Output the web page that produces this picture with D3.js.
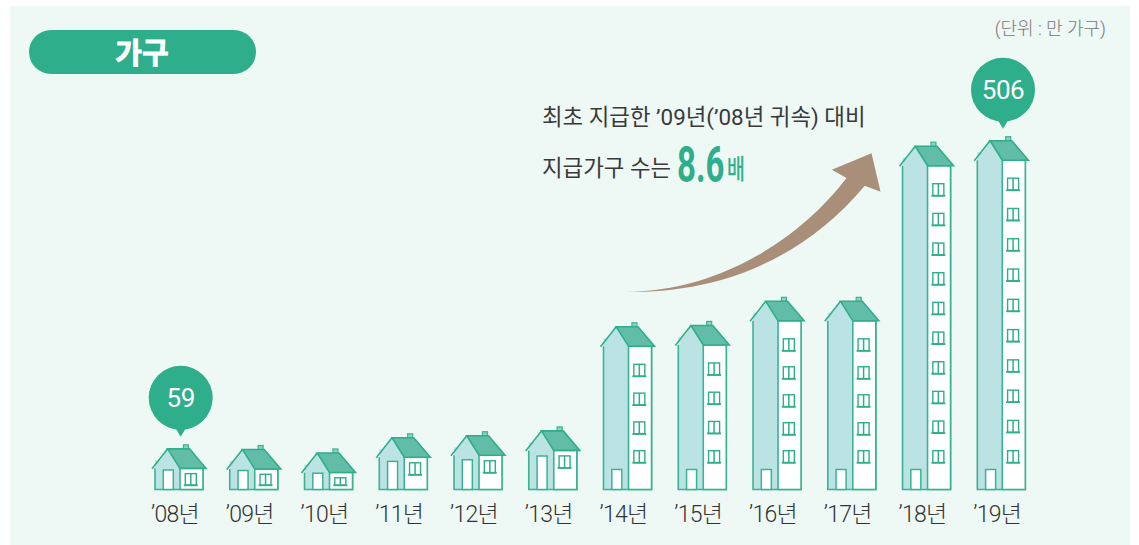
<!DOCTYPE html>
<html>
<head>
<meta charset="utf-8">
<script src="https://cdn.jsdelivr.net/npm/d3@7"></script>
<style>
  html, body { margin: 0; padding: 0; background: #fff; }
  text { font-family: Roboto, "Noto Sans CJK KR", sans-serif; }
</style>
</head>
<body>
<div id="chart"></div>
<script>
// data (only 59 and 506 are printed, the rest are estimates)
const years = ["’08년", "’09년", "’10년", "’11년", "’12년", "’13년", "’14년", "’15년", "’16년", "’17년", "’18년", "’19년"];
const households = [59, 58, 53, 75, 78, 85, 236, 238, 273, 273, 498, 506];
const windowCounts = [1, 1, 1, 1, 1, 1, 4, 4, 5, 5, 10, 10];
const labelled = ["’08년", "’19년"];

const width = 1139, height = 545;
const green = "#2eae8a", line = "#3bb393", roofFill = "#62bda8", wallFill = "#bce3e4";

const x = d3.scalePoint().domain(years).range([179, 1001.3]);
const y = d3.scaleLinear().domain([0, 506]).range([489.5, 140.7]);
const baseY = y(0);

const svg = d3.select("#chart").append("svg")
    .attr("width", width)
    .attr("height", height)
    .style("display", "block");

// panel
svg.append("rect").attr("x", 10).attr("y", 6).attr("width", 1120).attr("height", 539).attr("fill", "#eef8f5");

// title pill
svg.append("rect").attr("x", 29).attr("y", 30).attr("width", 227).attr("height", 44).attr("rx", 22).attr("fill", green);
svg.append("text").attr("x", 142).attr("y", 64).attr("text-anchor", "middle")
    .attr("fill", "#fff").attr("stroke", "#fff").attr("stroke-width", 0.8)
    .style("font-size", "29px").style("font-weight", 700).text("가구");

// unit
svg.append("text").attr("x", 1106).attr("y", 35).attr("text-anchor", "end")
    .attr("fill", "#777").style("font-size", "18px").style("font-weight", 300).text("(단위 : 만 가구)");

// note
svg.append("text").attr("x", 542).attr("y", 125).attr("fill", "#3a3a3a")
    .style("font-size", "22.4px").style("font-weight", 400).text("최초 지급한 ’09년(’08년 귀속) 대비");
svg.append("text").attr("x", 542).attr("y", 176).attr("fill", "#3a3a3a")
    .style("font-size", "22.4px").style("font-weight", 400).text("지급가구 수는");
svg.append("text").attr("transform", "translate(677,182) scale(0.66,1)").attr("fill", green)
    .style("font-size", "50px").style("font-weight", 700).text("8.6");
svg.append("text").attr("transform", "translate(727,179) scale(0.72,1)").attr("fill", green)
    .attr("stroke", green).attr("stroke-width", 0.5)
    .style("font-size", "27px").style("font-weight", 400).text("배");

// big arrow, hung off the '14 and '19 houses
const ax = x("’14년") - 2.7, ay = y(287);
const arrow = d3.path();
arrow.moveTo(ax, ay);
arrow.bezierCurveTo(ax + 85, ay + 1, ax + 170, ay - 46, ax + 221.7, ay - 113.7);
arrow.lineTo(ax + 207, ay - 122);
arrow.lineTo(ax + 246.7, ay - 138.3);
arrow.lineTo(ax + 255.7, ay - 100);
arrow.lineTo(ax + 240, ay - 106);
arrow.bezierCurveTo(ax + 175, ay - 29, ax + 90, ay + 2, ax, ay);
arrow.closePath();
svg.append("path").attr("d", arrow.toString()).attr("fill", "#a98e7a");

// one house per year
const rows = years.map((d, i) => ({ year: d, value: households[i], windows: windowCounts[i] }));

const houses = svg.append("g").selectAll("g")
    .data(rows)
    .join("g")
    .attr("transform", d => `translate(${x(d.year)},0)`);

houses.each(function(d) {
    const g = d3.select(this);
    const ridge = y(d.value);
    const eave = ridge + 19.5;
    const wall = baseY - eave;

    // walls
    g.append("rect").attr("x", -24).attr("y", eave - 8).attr("width", 25).attr("height", baseY - eave + 8)
        .attr("fill", wallFill).attr("stroke", "none");
    g.append("path").attr("d", `M-24,${eave}V${baseY}H24V${eave}`).attr("fill", "none")
        .attr("stroke", line).attr("stroke-width", 1.6);
    g.append("rect").attr("x", 1).attr("y", eave).attr("width", 23).attr("height", wall)
        .attr("fill", "#fff").attr("stroke", line).attr("stroke-width", 1.6);

    // gable
    g.append("path").attr("d", `M-11.3,${ridge}L1,${eave}H-24Z`).attr("fill", wallFill);

    // chimney and roof
    g.append("rect").attr("x", 4.4).attr("y", ridge - 4).attr("width", 5).attr("height", 7)
        .attr("fill", "#8fd0c0").attr("stroke", line).attr("stroke-width", 1.2);
    g.append("path").attr("d", `M-11.3,${ridge}H10.5L27,${eave}H1Z`)
        .attr("fill", roofFill).attr("stroke", green).attr("stroke-width", 1.6).attr("stroke-linejoin", "miter");
    g.append("path").attr("d", `M-27,${eave + 0.5}L-11.3,${ridge}`).attr("fill", "none")
        .attr("stroke", green).attr("stroke-width", 1.6);

    // door
    const doorH = d.windows > 1 ? 20 : 0.78 * wall + 3;
    g.append("rect").attr("x", -15.7).attr("y", baseY - doorH).attr("width", 10).attr("height", doorH)
        .attr("fill", "#fff").attr("stroke", line).attr("stroke-width", 1.5);

    // windows
    const winY = [];
    if (d.windows === 1) {
        const bottom = Math.min(eave + 17.5, 485.3);
        const h = Math.min(12, wall - 9.5);
        winY.push([bottom - h, h]);
    } else {
        const first = eave + 24, last = 456.7;
        d3.range(d.windows).forEach(k => {
            const c = first + (last - first) * k / (d.windows - 1);
            winY.push([c - 6, 12]);
        });
    }
    winY.forEach(([top, h]) => {
        const w = g.append("g").attr("transform", `translate(11.8,${top})`);
        w.append("rect").attr("x", -5.5).attr("y", 0).attr("width", 11).attr("height", h)
            .attr("fill", "#fff").attr("stroke", green).attr("stroke-width", 1.4);
        w.append("line").attr("x1", 0).attr("x2", 0).attr("y1", 0).attr("y2", h)
            .attr("stroke", green).attr("stroke-width", 1.5);
        w.append("line").attr("x1", -7).attr("x2", 7).attr("y1", h).attr("y2", h)
            .attr("stroke", green).attr("stroke-width", 1.8);
    });
});

// value bubbles
const bubbles = svg.append("g").selectAll("g")
    .data(rows.filter(d => labelled.includes(d.year)))
    .join("g")
    .attr("transform", d => `translate(${x(d.year) + 1.7},${y(d.value) - 12})`);
bubbles.append("path").attr("d", "M0,0L-6,-10H6Z").attr("fill", green);
bubbles.append("circle").attr("cx", 0).attr("cy", -39).attr("r", 32).attr("fill", green);
bubbles.append("text").attr("x", 0).attr("y", -30).attr("text-anchor", "middle")
    .attr("fill", "#fff").style("font-size", "26px").style("font-weight", 400).style("letter-spacing", "-0.5px").text(d => d.value);

// year labels
const axis = d3.axisBottom(x).tickSize(0).tickPadding(0);
const axisG = svg.append("g").attr("transform", `translate(-4.5,${baseY + 16})`).call(axis);
axisG.select(".domain").remove();
axisG.selectAll("text")
    .attr("fill", "#333")
    .style("font-family", 'Roboto, "Noto Sans CJK KR", sans-serif')
    .style("font-size", "23px")
    .style("font-weight", 300)
    .style("letter-spacing", "-0.7px");
</script>
</body>
</html>
